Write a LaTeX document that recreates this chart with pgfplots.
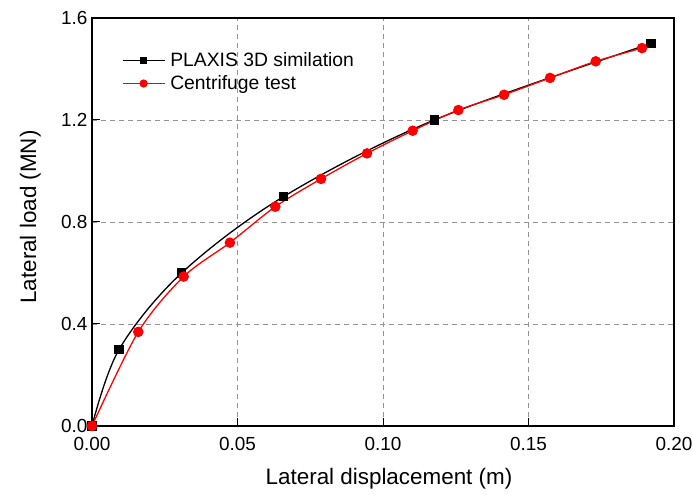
\documentclass[border=0pt]{standalone}
\usepackage{pgfplots}
\pgfplotsset{compat=1.18}
\usepackage{fontspec}
\setmainfont{Liberation Sans}
\begin{document}
\begin{tikzpicture}[x=1bp,y=1bp]
\path[use as bounding box] (0,0) rectangle (692,495);
\begin{axis}[
  at={(92bp,69bp)}, anchor=south west,
  scale only axis, width=582bp, height=408bp,
  xmin=0, xmax=0.2, ymin=0, ymax=1.6,
  xtick={0,0.05,0.1,0.15,0.2}, ytick={0,0.4,0.8,1.2,1.6},
  xticklabel style={yshift=-8bp, /pgf/number format/.cd, fixed, fixed zerofill, precision=2},
  yticklabel style={xshift=-1bp, /pgf/number format/.cd, fixed, fixed zerofill, precision=1},
  /pgf/number format/assume math mode=true,
  tick label style={font=\fontsize{19}{22}\selectfont, black},
  tick align=inside, tick pos=left, major tick length=8bp,
  grid=major, major grid style={gray!85, dash pattern=on 5bp off 4bp, line width=0.8bp},
  axis line style={line width=1.3bp},
  tick style={black, line width=1bp},
  xlabel={Lateral displacement (m)}, ylabel={Lateral load (MN)},
  label style={font=\fontsize{22.5}{26}\selectfont},
  xlabel style={at={([xshift=6bp,yshift=-59bp]axis description cs:0.5,0)}, anchor=base},
  ylabel style={at={([xshift=-56bp,yshift=5bp]axis description cs:0,0.5)}, anchor=base},
  legend style={at={(axis description cs:0.046,0.925)}, anchor=north west, draw=none, fill=none,
    font=\fontsize{19.4}{23}\selectfont, row sep=3.5bp, column sep=3bp},
  legend cell align=left,
  legend image code/.code={\draw[mark repeat=2,mark phase=2,#1, every mark/.append style={scale=0.75}] plot coordinates {(0bp,0bp)(21bp,0bp)(42bp,0bp)};},
]
\addplot[black, line width=1.3bp, smooth, tension=0.55, mark=square*, mark size=4bp, mark options={solid}]
  coordinates {(0,0) (0.0093,0.30) (0.0308,0.60) (0.0659,0.90) (0.1176,1.20) (0.1921,1.50)};
\addlegendentry{PLAXIS 3D similation}
\addplot[red, line width=1.3bp, smooth, tension=0.5, mark=*, mark size=4.6bp, mark options={solid, fill=red}]
  coordinates {(0,0) (0.0159,0.369) (0.0315,0.586) (0.0474,0.719) (0.063,0.86) (0.0787,0.969) (0.0945,1.069) (0.1102,1.158) (0.1259,1.239) (0.1416,1.299) (0.1574,1.365) (0.1731,1.43) (0.189,1.482)};
\addlegendentry{Centrifuge test}
\end{axis}
\end{tikzpicture}
\end{document}
